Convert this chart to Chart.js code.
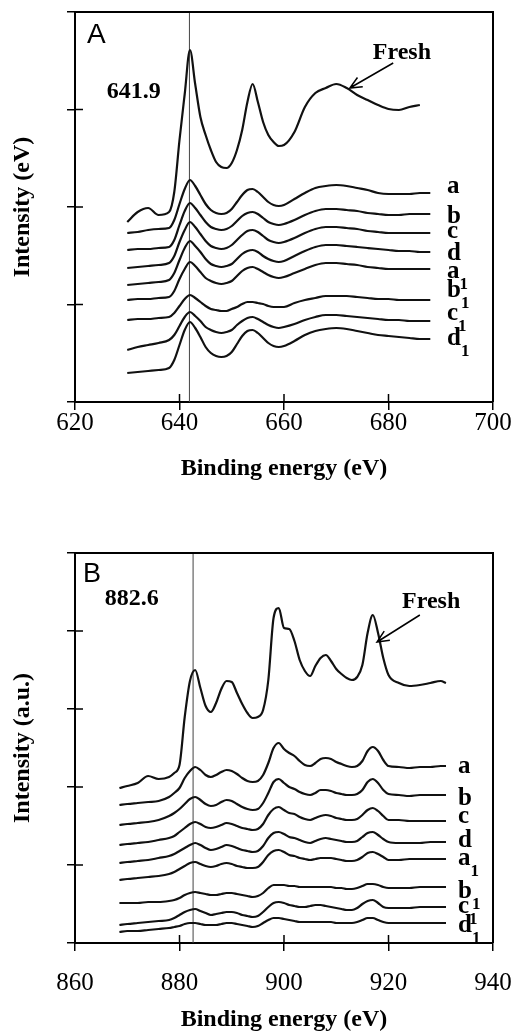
<!DOCTYPE html>
<html>
<head>
<meta charset="utf-8">
<script src="https://cdn.jsdelivr.net/npm/chart.js@4.4.0/dist/chart.umd.min.js"></script>
<style>
  html, body { margin: 0; padding: 0; background: #fff; }
  .wrap { position: absolute; left: 0; width: 516px; }
  #wrapA { top: 0; height: 500px; }
  #wrapB { top: 520px; height: 514px; }
</style>
</head>
<body>
<div class="wrap" id="wrapA"><canvas id="chartA" width="516" height="500"></canvas></div>
<div class="wrap" id="wrapB"><canvas id="chartB" width="516" height="514"></canvas></div>
<script>
// ---- Panel A (Mn 2p) ----
const energyA = [630, 632, 634, 636, 638, 639, 640, 641, 642, 643, 644, 645, 646, 647, 648, 649, 650,
  651, 652, 653, 654, 655, 656, 657, 658, 659, 660, 662, 664, 666, 668, 670, 672, 674, 676, 678, 680,
  682, 684, 686, 688];
const freshA = [180, 190, 194, 187, 190, 210, 262, 308, 352, 318, 285, 267, 252, 240, 235, 234, 239,
  252, 272, 300, 318, 300, 280, 267, 260, 256, 257, 270, 295, 309, 314, 318, 314, 307, 302, 297, 293,
  292, 295, 297, null];
const aA = [169, 170, 172, 173, 174, 182, 198, 213, 222, 216, 207, 198, 192, 189, 188, 189, 193,
  200, 207, 212, 213, 210, 205, 200, 197, 196, 197, 203, 209, 214, 216, 217, 216, 214, 212, 209, 208,
  208, 208, 209, 209];
const bA = [152, 153, 153, 154, 155, 162, 177, 191, 199, 194, 187, 180, 175, 173, 172, 173, 176,
  181, 186, 189, 190, 188, 184, 180, 178, 177, 178, 182, 187, 191, 193, 193, 192, 191, 189, 188, 187,
  187, 188, 188, 188];
const cA = [134, 135, 136, 137, 139, 146, 160, 172, 180, 175, 168, 161, 156, 154, 153, 154, 157,
  162, 167, 171, 172, 170, 166, 162, 160, 159, 160, 164, 169, 173, 175, 175, 174, 173, 171, 170, 169,
  169, 169, 169, 169];
const dA = [117, 118, 119, 120, 122, 129, 142, 154, 161, 156, 150, 143, 138, 136, 135, 136, 138,
  143, 148, 151, 152, 150, 146, 143, 141, 140, 141, 146, 151, 155, 157, 157, 156, 155, 154, 153, 152,
  151, 151, 150, 150];
const a1A = [102, 103, 103, 104, 105, 111, 123, 133, 140, 136, 130, 124, 121, 119, 118, 119, 121,
  126, 131, 134, 135, 133, 130, 127, 125, 124, 125, 129, 133, 137, 139, 139, 138, 137, 135, 134, 133,
  133, 133, 133, 133];
const b1A = [82, 83, 83, 84, 85, 89, 96, 103, 107, 104, 100, 96, 93, 92, 91, 91, 93,
  95, 98, 100, 100, 99, 98, 96, 95, 95, 95, 99, 102, 104, 106, 106, 106, 105, 104, 103, 103,
  102, 102, 102, 102];
const c1A = [52, 55, 57, 59, 62, 67, 76, 85, 90, 86, 81, 75, 72, 70, 69, 70, 72,
  77, 81, 84, 85, 83, 80, 77, 75, 74, 75, 78, 82, 85, 87, 87, 86, 85, 84, 83, 82,
  82, 81, 81, 81];
const d1A = [29, 30, 31, 32, 34, 42, 57, 72, 80, 74, 65, 55, 49, 46, 45, 46, 50,
  58, 66, 71, 72, 69, 64, 59, 56, 55, 56, 61, 67, 71, 73, 74, 73, 71, 69, 67, 66,
  65, 64, 63, 63];
const peakA = 641.9;
const xRangeA = [620, 700];

// ---- Panel B (Ce 3d) ----
const energyB = [868.5, 870, 872, 874, 876, 878, 879, 880, 881, 882, 883, 884, 885, 886, 887, 888,
  889, 890, 891, 892, 893, 894, 895, 896, 897, 898, 899, 900, 901, 902, 903, 904, 905, 906, 907, 908,
  909, 910, 911, 912, 913, 914, 915, 916, 917, 918, 919, 920, 922, 924, 926, 928, 930, 931];
const freshB = [155, 157, 160, 167, 164, 166, 170, 178, 226, 262, 273, 255, 237, 231, 240, 254,
  262, 261, 250, 239, 230, 225, 226, 233, 263, 325, 335, 315, 314, 302, 283, 272, 267, 277, 285, 288,
  282, 274, 269, 265, 263, 266, 278, 310, 328, 310, 285, 268, 260, 257, 258, 260, 262, 260];
const aB = [138, 139, 140, 141, 142, 146, 150, 155, 165, 172, 176, 173, 168, 166, 168, 171,
  173, 172, 169, 165, 162, 161, 162, 168, 180, 195, 200, 194, 190, 187, 182, 178, 177, 180, 184, 185,
  184, 181, 179, 177, 176, 177, 182, 192, 196, 192, 183, 177, 176, 175, 176, 176, 177, 177];
const bB = [118, 119, 120, 121, 123, 127, 130, 134, 139, 144, 146, 143, 139, 137, 138, 141,
  143, 142, 139, 136, 134, 133, 134, 140, 150, 161, 164, 160, 156, 154, 151, 149, 148, 150, 153, 153,
  152, 150, 149, 148, 148, 149, 153, 161, 164, 160, 153, 149, 148, 147, 148, 148, 148, 148];
const cB = [98, 99, 100, 101, 103, 105, 107, 111, 115, 119, 121, 119, 116, 115, 116, 118,
  120, 119, 117, 115, 114, 113, 114, 119, 128, 134, 136, 133, 130, 129, 126, 124, 123, 125, 127, 128,
  127, 125, 124, 123, 123, 124, 128, 133, 135, 132, 127, 123, 123, 122, 122, 122, 122, 122];
const dB = [80, 81, 82, 83, 85, 87, 89, 92, 95, 98, 100, 98, 95, 93, 94, 96,
  98, 97, 95, 93, 92, 91, 92, 97, 105, 110, 111, 109, 106, 105, 103, 101, 100, 102, 104, 105,
  104, 103, 102, 101, 101, 102, 106, 110, 111, 108, 104, 101, 100, 100, 100, 101, 101, 101];
const a1B = [63, 64, 65, 66, 67, 69, 71, 74, 77, 80, 81, 79, 77, 76, 77, 79,
  80, 79, 77, 76, 75, 75, 76, 81, 88, 92, 93, 91, 88, 87, 85, 84, 83, 84, 85, 85,
  85, 84, 83, 82, 82, 83, 86, 90, 91, 89, 86, 83, 83, 84, 84, 84, 84, 84];
const b1B = [40, 40, 40, 41, 41, 42, 43, 45, 48, 50, 51, 50, 49, 48, 48, 49,
  50, 50, 49, 48, 47, 46, 47, 50, 55, 58, 58, 58, 57, 57, 56, 56, 56, 56, 56, 56,
  56, 55, 55, 54, 54, 55, 57, 59, 59, 58, 56, 55, 55, 55, 56, 56, 56, 56];
const c1B = [18, 19, 20, 21, 22, 23, 25, 28, 31, 33, 34, 32, 30, 28, 29, 30,
  31, 31, 30, 28, 27, 26, 27, 31, 36, 40, 41, 40, 38, 37, 36, 36, 37, 38, 38, 37,
  36, 35, 34, 33, 33, 35, 39, 42, 43, 40, 36, 35, 35, 35, 36, 36, 36, 36];
const d1B = [11, 12, 12, 13, 14, 15, 16, 17, 19, 20, 20, 19, 18, 18, 18, 19,
  20, 20, 19, 18, 17, 16, 17, 20, 23, 25, 25, 24, 23, 22, 21, 21, 21, 21, 21, 21,
  21, 20, 20, 20, 20, 21, 23, 25, 25, 23, 21, 20, 20, 20, 20, 20, 20, 20];
const peakB = 882.6;
const xRangeB = [860, 940];

const seriesNames = ['Fresh', 'a', 'b', 'c', 'd', 'a1', 'b1', 'c1', 'd1'];

const SERIF = "'Liberation Serif', 'Times New Roman', serif";
const SANS = "'Liberation Sans', Arial, sans-serif";
Chart.defaults.color = '#000';
Chart.defaults.font.family = SERIF;

function toPoints(energy, values) {
  return energy.map((e, i) => ({ x: e, y: values[i] }));
}

// frame, inward ticks, labels and arrow
const overlay = {
  id: 'overlay',
  afterDatasetsDraw(chart, args, o) {
    const { ctx, chartArea: ca, scales: { x, y } } = chart;
    ctx.save();
    ctx.strokeStyle = '#000';
    ctx.lineWidth = 2;
    ctx.beginPath();
    ctx.moveTo(ca.left, ca.top);
    ctx.lineTo(ca.right, ca.top);
    ctx.lineTo(ca.right, ca.bottom);
    ctx.stroke();

    ctx.lineWidth = 1.5;
    ctx.beginPath();
    x.ticks.forEach(t => {
      const p = x.getPixelForValue(t.value);
      ctx.moveTo(p, ca.bottom);
      ctx.lineTo(p, ca.bottom - 8);
    });
    y.ticks.forEach(t => {
      const p = y.getPixelForValue(t.value);
      ctx.moveTo(ca.left, p);
      ctx.lineTo(ca.left + 8, p);
    });
    ctx.stroke();

    // panel letter
    ctx.fillStyle = '#000';
    ctx.textAlign = 'left';
    ctx.textBaseline = 'alphabetic';
    ctx.font = o.letter.size + 'px ' + SANS;
    ctx.fillText(o.letter.text, ca.left + o.letter.dx, ca.top + o.letter.dy);

    ctx.font = 'bold 24px ' + SERIF;
    ctx.textBaseline = 'middle';
    ctx.fillText(o.peakLabel.text, x.getPixelForValue(o.peakLabel.x), y.getPixelForValue(o.peakLabel.y));
    ctx.fillText('Fresh', x.getPixelForValue(o.fresh.x), y.getPixelForValue(o.fresh.y));

    // arrow pointing at the fresh curve
    const x0 = x.getPixelForValue(o.arrow[0]), y0 = y.getPixelForValue(o.arrow[1]);
    const x1 = x.getPixelForValue(o.arrow[2]), y1 = y.getPixelForValue(o.arrow[3]);
    const ang = Math.atan2(y1 - y0, x1 - x0);
    ctx.lineWidth = 1.5;
    ctx.beginPath();
    ctx.moveTo(x0, y0);
    ctx.lineTo(x1, y1);
    ctx.moveTo(x1 - 13 * Math.cos(ang - 0.42), y1 - 13 * Math.sin(ang - 0.42));
    ctx.lineTo(x1, y1);
    ctx.lineTo(x1 - 13 * Math.cos(ang + 0.42), y1 - 13 * Math.sin(ang + 0.42));
    ctx.stroke();

    // series labels with subscripts
    ctx.textBaseline = 'alphabetic';
    o.names.forEach(n => {
      const px = x.getPixelForValue(o.namesX);
      const py = y.getPixelForValue(n.y);
      ctx.font = 'bold 25px ' + SERIF;
      const main = n.t.charAt(0);
      ctx.fillText(main, px, py);
      if (n.t.length > 1) {
        const w = ctx.measureText(main).width;
        ctx.font = 'bold 17px ' + SERIF;
        ctx.fillText(n.t.slice(1), px + w, py + 11);
      }
    });
    ctx.restore();
  }
};

function makeChart(id, p) {
  const datasets = p.curves.map((vals, i) => ({
    label: seriesNames[i],
    data: toPoints(p.energy, vals),
    borderColor: '#111',
    borderWidth: 2.2,
    pointRadius: 0,
    cubicInterpolationMode: 'monotone',
    fill: false
  }));
  datasets.push({
    label: 'peak',
    data: [{ x: p.peak, y: 0 }, { x: p.peak, y: p.yMax }],
    borderColor: '#444',
    borderWidth: 1,
    pointRadius: 0
  });

  return new Chart(document.getElementById(id), {
    type: 'line',
    data: { datasets },
    plugins: [overlay],
    options: {
      responsive: false,
      animation: false,
      devicePixelRatio: 1,
      layout: { padding: { left: 0, right: 23, top: p.padTop, bottom: 0 } },
      plugins: {
        legend: { display: false },
        tooltip: { enabled: false },
        overlay: p.overlay
      },
      scales: {
        x: {
          type: 'linear',
          min: p.xRange[0],
          max: p.xRange[1],
          afterFit: s => { s.height = p.axisHeight; },
          ticks: { stepSize: 20, maxRotation: 0, padding: 0, font: { size: 25, family: SERIF, lineHeight: p.tickLineHeight } },
          grid: { display: true, drawOnChartArea: false, drawTicks: true, tickLength: 8, color: '#000', lineWidth: 1.5 },
          border: { display: true, color: '#000', width: 2 },
          title: {
            display: true, text: 'Binding energy (eV)',
            font: { size: 24, weight: 'bold', family: SERIF },
            padding: { top: 0, bottom: p.titlePad }
          }
        },
        y: {
          type: 'linear',
          min: 0,
          max: p.yMax,
          afterFit: s => { s.width = 75; },
          ticks: { display: false, stepSize: p.yStep },
          grid: { display: true, drawOnChartArea: false, drawTicks: true, tickLength: 8, color: '#000', lineWidth: 1.5 },
          border: { display: true, color: '#000', width: 2 },
          title: {
            display: true, text: p.yTitle,
            font: { size: 24, weight: 'bold', family: SERIF },
            padding: { top: 8, bottom: 0 }
          }
        }
      }
    }
  });
}

makeChart('chartA', {
  energy: energyA,
  curves: [freshA, aA, bA, cA, dA, a1A, b1A, c1A, d1A],
  peak: peakA, xRange: xRangeA, yMax: 390, yStep: 97.5,
  padTop: 12, axisHeight: 98, tickLineHeight: 1.1, titlePad: 17,
  yTitle: 'Intensity (eV)',
  overlay: {
    letter: { text: 'A', size: 28, dx: 12, dy: 31 },
    peakLabel: { text: '641.9', x: 626.1, y: 310 },
    fresh: { x: 677, y: 349 },
    arrow: [680.9, 339, 672.6, 314],
    namesX: 691.2,
    names: [
      { t: 'a', y: 209 }, { t: 'b', y: 179 }, { t: 'c', y: 164 }, { t: 'd', y: 142 },
      { t: 'a1', y: 124 }, { t: 'b1', y: 105 }, { t: 'c1', y: 82 }, { t: 'd1', y: 57 }
    ]
  }
});

makeChart('chartB', {
  energy: energyB,
  curves: [freshB, aB, bB, cB, dB, a1B, b1B, c1B, d1B],
  peak: peakB, xRange: xRangeB, yMax: 390, yStep: 78,
  padTop: 33, axisHeight: 91, tickLineHeight: 2.6, titlePad: 0,
  yTitle: 'Intensity (a.u.)',
  overlay: {
    letter: { text: 'B', size: 27, dx: 8, dy: 29 },
    peakLabel: { text: '882.6', x: 865.7, y: 344 },
    fresh: { x: 922.6, y: 341 },
    arrow: [926.0, 328, 917.8, 301],
    namesX: 933.3,
    names: [
      { t: 'a', y: 170 }, { t: 'b', y: 138 }, { t: 'c', y: 120 }, { t: 'd', y: 96 },
      { t: 'a1', y: 78 }, { t: 'b1', y: 45 }, { t: 'c1', y: 30 }, { t: 'd1', y: 11 }
    ]
  }
});
</script>
</body>
</html>
